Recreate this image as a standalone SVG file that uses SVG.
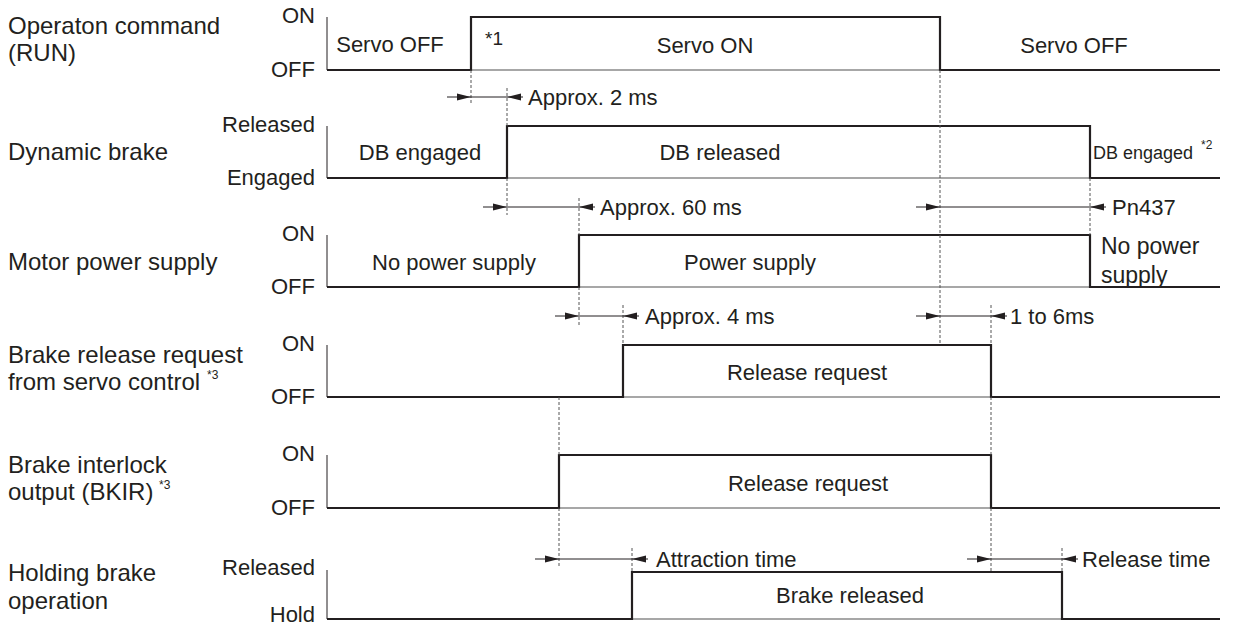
<svg xmlns="http://www.w3.org/2000/svg" width="1234" height="625" viewBox="0 0 1234 625">
<style>
text{font-family:"Liberation Sans",Arial,sans-serif;font-size:22px;fill:#231f20}
.lbl{font-size:24px}
.r{text-anchor:end}
.m{text-anchor:middle}
.sm{font-size:19px}
.db{font-size:18px}
.np{font-size:23px}
.sup{font-size:12px}
.axis{stroke:#231f20;stroke-width:1;fill:none}
.base{stroke:#8a8a8a;stroke-width:1.5;fill:none}
.sig{stroke:#231f20;stroke-width:2.2;fill:none;stroke-linejoin:miter}
.dash{stroke:#555;stroke-width:1;stroke-dasharray:3 2;fill:none}
.dim{stroke:#231f20;stroke-width:1;fill:none}
.ah{fill:#231f20}
</style>
<defs>
<polygon id="ar" points="0,0 -14,-3.5 -14,3.5"/>
<polygon id="al" points="0,0 14,-3.5 14,3.5"/>
</defs>

<g id="row-run">
<text class="lbl" x="8" y="34">Operaton command</text>
<text class="lbl" x="8" y="61">(RUN)</text>
<text class="r" x="315" y="23">ON</text>
<text class="r" x="315" y="77">OFF</text>
<path class="axis" d="M327,17V70"/>
<path class="base" d="M327,70H1220"/>
<path class="sig" d="M327,70H471V17H940V70H1220"/>
<text class="m" x="390" y="52">Servo OFF</text>
<text x="485" y="45" class="sm">*1</text>
<text class="m" x="705" y="53">Servo ON</text>
<text class="m" x="1074" y="53">Servo OFF</text>
</g>

<g id="row-db">
<text class="lbl" x="8" y="160">Dynamic brake</text>
<text class="r" x="315" y="132">Released</text>
<text class="r" x="315" y="185">Engaged</text>
<path class="axis" d="M327,126V178"/>
<path class="base" d="M327,178H1220"/>
<path class="sig" d="M327,178H507V126H1090V178H1220"/>
<text class="m" x="420" y="160">DB engaged</text>
<text class="m" x="720" y="160">DB released</text>
<text x="1093" y="159" class="db">DB engaged</text>
<text x="1201" y="149" class="sup">*2</text>
</g>

<g id="row-motor">
<text class="lbl" x="8" y="270">Motor power supply</text>
<text class="r" x="315" y="241">ON</text>
<text class="r" x="315" y="294">OFF</text>
<path class="axis" d="M327,235V287"/>
<path class="base" d="M327,287H1220"/>
<path class="sig" d="M327,287H579V235H1090V287H1220"/>
<text class="m" x="454" y="270">No power supply</text>
<text class="m" x="750" y="270">Power supply</text>
<text x="1101" y="254" class="np">No power</text>
<text x="1101" y="283" class="np">supply</text>
</g>

<g id="row-brq">
<text class="lbl" x="8" y="363">Brake release request</text>
<text class="lbl" x="8" y="390">from servo control</text>
<text x="207" y="379" class="sup">*3</text>
<text class="r" x="315" y="351">ON</text>
<text class="r" x="315" y="404">OFF</text>
<path class="axis" d="M327,345V397"/>
<path class="base" d="M327,397H1220"/>
<path class="sig" d="M327,397H623V345H991V397H1220"/>
<text class="m" x="807" y="380">Release request</text>
</g>

<g id="row-bkir">
<text class="lbl" x="8" y="473">Brake interlock</text>
<text class="lbl" x="8" y="500">output (BKIR)</text>
<text x="159" y="489" class="sup">*3</text>
<text class="r" x="315" y="461">ON</text>
<text class="r" x="315" y="515">OFF</text>
<path class="axis" d="M327,455V508"/>
<path class="base" d="M327,508H1220"/>
<path class="sig" d="M327,508H559V455H991V508H1220"/>
<text class="m" x="808" y="491">Release request</text>
</g>

<g id="row-hold">
<text class="lbl" x="8" y="581">Holding brake</text>
<text class="lbl" x="8" y="609">operation</text>
<text class="r" x="315" y="575">Released</text>
<text class="r" x="315" y="622">Hold</text>
<path class="axis" d="M327,570V619"/>
<path class="base" d="M327,619H1220"/>
<path class="sig" d="M327,619H632V572H1062V619H1220"/>
<text class="m" x="850" y="603">Brake released</text>
</g>

<g id="connectors">
<path class="dash" d="M471,70V104 M507,88V126 M507,178V215 M579,198V235 M579,287V325 M940,70V345 M1090,178V235 M623,305V345 M991,305V345 M991,397V455 M991,508V572 M559,397V455 M559,508V566 M632,548V572 M1062,548V572"/>
<path class="dim" d="M447,97H523 M483,207H595 M916,207H1106 M555,316H639 M916,316H1007 M535,559H648 M967,559H1078"/>
<use href="#ar" x="471" y="97" class="ah"/><use href="#al" x="507" y="97" class="ah"/>
<use href="#ar" x="507" y="207" class="ah"/><use href="#al" x="579" y="207" class="ah"/>
<use href="#ar" x="940" y="207" class="ah"/><use href="#al" x="1090" y="207" class="ah"/>
<use href="#ar" x="579" y="316" class="ah"/><use href="#al" x="623" y="316" class="ah"/>
<use href="#ar" x="940" y="316" class="ah"/><use href="#al" x="991" y="316" class="ah"/>
<use href="#ar" x="559" y="559" class="ah"/><use href="#al" x="632" y="559" class="ah"/>
<use href="#ar" x="991" y="559" class="ah"/><use href="#al" x="1062" y="559" class="ah"/>
<text x="528" y="105">Approx. 2 ms</text>
<text x="600" y="215">Approx. 60 ms</text>
<text x="1112" y="215">Pn437</text>
<text x="645" y="324">Approx. 4 ms</text>
<text x="1010" y="324">1 to 6ms</text>
<text x="656" y="567">Attraction time</text>
<text x="1082" y="567">Release time</text>
</g>
</svg>
